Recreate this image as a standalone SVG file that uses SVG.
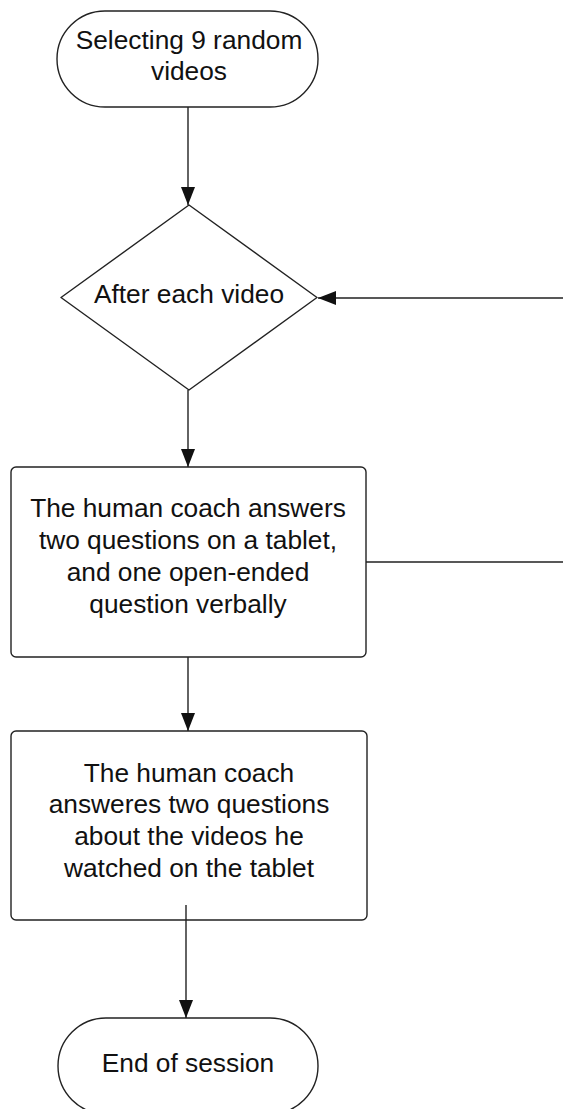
<svg xmlns="http://www.w3.org/2000/svg" width="563" height="1109" viewBox="0 0 563 1109">
<style>
.shape{fill:#fff;stroke:#222;stroke-width:1.4}
.conn{fill:none;stroke:#222;stroke-width:1.4}
text{font-family:"Liberation Sans",Arial,sans-serif;font-size:26.3px;fill:#111;text-anchor:middle}
</style>
<defs>
<marker id="arr" markerWidth="18" markerHeight="14" refX="18" refY="7" orient="auto" markerUnits="userSpaceOnUse">
<path d="M0,0 L18,7 L0,14 Z" fill="#111"/>
</marker>
</defs>
<rect width="563" height="1109" fill="#fff"/>
<g id="start">
<rect class="shape" x="57" y="11" width="261" height="96" rx="48" ry="48"/>
<text x="189" y="49">Selecting 9 random</text>
<text x="189" y="80">videos</text>
</g>
<g id="decision">
<polygon class="shape" points="189,205 317,297.5 189,390 61,297.5" stroke-linejoin="round"/>
<text x="189" y="303">After each video</text>
</g>
<g id="step1">
<rect class="shape" x="11" y="467" width="355" height="190" rx="5" ry="5"/>
<text x="188" y="517">The human coach answers</text>
<text x="188" y="549">two questions on a tablet,</text>
<text x="188" y="581">and one open-ended</text>
<text x="188" y="613">question verbally</text>
</g>
<g id="step2">
<rect class="shape" x="11" y="731" width="356" height="189" rx="5" ry="5"/>
<text x="189" y="782">The human coach</text>
<text x="189" y="813">answeres two questions</text>
<text x="189" y="845">about the videos he</text>
<text x="189" y="877">watched on the tablet</text>
</g>
<g id="end">
<rect class="shape" x="58" y="1018" width="260" height="96" rx="48" ry="48"/>
<text x="188" y="1072">End of session</text>
</g>
<g id="connectors">
<path class="conn" d="M188,107 V205" marker-end="url(#arr)"/>
<path class="conn" d="M188,390 V467" marker-end="url(#arr)"/>
<path class="conn" d="M188,657 V731" marker-end="url(#arr)"/>
<path class="conn" d="M186,905 V1018" marker-end="url(#arr)"/>
<path class="conn" d="M366,562 H566 V298 H318" marker-end="url(#arr)"/>
</g>
</svg>
